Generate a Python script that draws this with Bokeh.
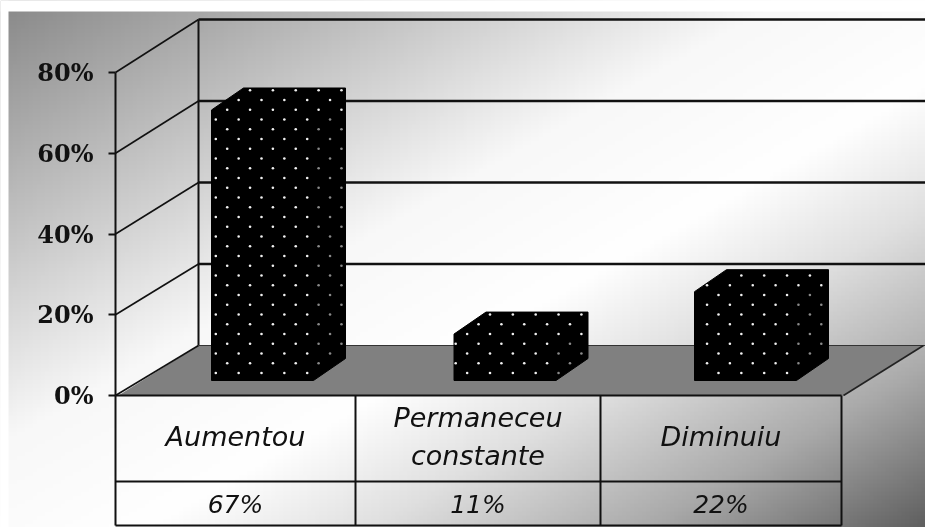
import numpy as np
from bokeh.plotting import figure
from bokeh.models import Range1d, FixedTicker
from bokeh.core.properties import value
from bokeh.embed import file_html
from bokeh.resources import INLINE

categories = ["Aumentou", "Permaneceu\nconstante", "Diminuiu"]
values = [67, 11.5, 22]
value_labels = ["67%", "11%", "22%"]
ticks = [0, 20, 40, 60, 80]
tick_labels = {0: "0%", 20: "20%", 40: "40%", 60: "60%", 80: "80%"}

W, H = 925, 527
PX_PER_PCT = 4.0375
BACK_PX_PER_PCT = 4.075
Y_ZERO = 395


def v(px):  # pixel row -> value-axis units
    return (Y_ZERO - np.asarray(px, dtype=float)) / PX_PER_PCT


p = figure(width=W, height=H, output_backend="svg", toolbar_location=None,
           x_range=Range1d(0, W), y_range=Range1d(float(v(H)), float(v(0))),
           min_border=0, outline_line_color=None,
           styles={"position": "fixed", "left": "0px", "top": "0px"})
p.grid.visible = False
p.xaxis.visible = False

# background gradient
ny, nx = 132, 232
yy, xx = np.mgrid[0:ny, 0:nx]
tt = 0.5 * (xx / (nx - 1)) + 0.5 * (1 - yy / (ny - 1))
g = np.interp(tt, [0, 0.42, 0.58, 0.7, 0.85, 1], [0x88, 0xf8, 0xff, 0xe0, 0xaa, 0x60])
img = np.zeros((ny, nx), dtype=np.uint32)
view = img.view(np.uint8).reshape((ny, nx, 4))
view[..., 0] = view[..., 1] = view[..., 2] = g.astype(np.uint8)
view[..., 3] = 255
p.image_rgba(image=[img], x=0, y=float(v(H)), dw=W, dh=H / PX_PER_PCT)
p.quad(left=[0, 0], right=[8, W], bottom=[float(v(H)), float(v(11))],
       top=[float(v(0)), float(v(0))], fill_color="white", line_color=None)

# floor
DX, DY = 80, 50
FRONT_L, FRONT_R = 118, 843
p.patch([FRONT_L, FRONT_L + DX, FRONT_R + DX, FRONT_R],
        [0, DY / PX_PER_PCT, DY / PX_PER_PCT, 0], fill_color="#808080", line_color=None)

# 3D grid
AX = 115
BACK = 198
floor_back = DY / PX_PER_PCT
for t in ticks:
    by = floor_back + t * BACK_PX_PER_PCT / PX_PER_PCT
    if t > 0:
        p.line([BACK, W], [by, by], line_color="#111111", line_width=2.4)
    p.line([AX, BACK], [t, by], line_color="#111111", line_width=1.6)
p.line([BACK, BACK], [floor_back, floor_back + 80 * BACK_PX_PER_PCT / PX_PER_PCT],
       line_color="#111111", line_width=2)
p.line([BACK, W], [floor_back] * 2, line_color="#333333", line_width=1.2)
p.line([FRONT_R, FRONT_R + DX], [0, floor_back], line_color="#222222", line_width=1.6)

# bars
BAR_L = [211, 453.5, 694]
BAR_W, DEP_X, DEP_Y = 102, 32, 22
FLOOR_PX = 380
dots_x, dots_y, dots_c = [], [], []
for left, val in zip(BAR_L, values):
    base = float(v(FLOOR_PX))
    d = DEP_Y / PX_PER_PCT
    r = left + BAR_W
    p.patch([left, r, r + DEP_X, r + DEP_X, left + DEP_X, left],
            [base, base, base + d, base + val + d, base + val + d, base + val],
            fill_color="black", line_color="black", line_width=1)
    top_f = FLOOR_PX - val * PX_PER_PCT
    top_b = top_f - DEP_Y
    for ph, (x0, y0) in enumerate([(215.3, 119.0), (226.7, 128.8)]):
        for i in range(-2, 32):
            for j in range(-8, 30):
                x = x0 + 22.85 * i
                y = y0 + 19.5 * j
                if not (left + 1.5 < x < r + DEP_X - 1.5 and top_b + 1.5 < y < FLOOR_PX - 1.5):
                    continue
                if y < top_f and (x - left) * DEP_Y / DEP_X + (y - top_f) < 2:
                    continue
                if x > r and (x - r) * DEP_Y / DEP_X + (y - FLOOR_PX) > -2:
                    continue
                dots_x.append(x)
                dots_y.append(float(v(y)))
                dots_c.append("#8a8a8a" if (x > r - 4 and y > top_f) else "#f0f0f0")
p.scatter(dots_x, dots_y, marker="circle", size=2.6, fill_color=dots_c, line_color=None)

# data table
COLS = [115, 355, 600, 841]
ROWS = [395, 481, 525]
for cx in COLS:
    p.line([cx, cx], [float(v(ROWS[0])), float(v(ROWS[-1]))], line_color="#111111", line_width=2)
for ry in ROWS:
    p.line([COLS[0], COLS[-1]], [float(v(ry))] * 2, line_color="#111111", line_width=2)
centers = [(COLS[i] + COLS[i + 1]) / 2 for i in range(3)]
p.text(centers, [float(v(436))] * 3, text=categories, text_font=value("DejaVu Sans"),
       text_font_style="italic", text_font_size="27px", text_align="center",
       text_baseline="middle", text_color="#111111", text_line_height=1.25)
p.text(centers, [float(v(504))] * 3, text=value_labels, text_font=value("DejaVu Sans"),
       text_font_style="italic", text_font_size="25px", text_align="center",
       text_baseline="middle", text_color="#111111")

# value axis
ax = p.yaxis[0]
ax.fixed_location = AX
ax.bounds = (0, 80)
ax.ticker = FixedTicker(ticks=ticks)
ax.major_label_overrides = tick_labels
ax.major_tick_in = 0
ax.major_tick_out = 7
ax.minor_tick_line_color = None
ax.axis_line_color = "#111111"
ax.axis_line_width = 2
ax.major_tick_line_color = "#111111"
ax.major_tick_line_width = 2
ax.major_label_standoff = 15
ax.major_label_text_font = "DejaVu Serif"
ax.major_label_text_font_style = "bold"
ax.major_label_text_font_size = "24px"
ax.major_label_text_color = "#111111"

open("out.html", "w").write(file_html(p, INLINE))
